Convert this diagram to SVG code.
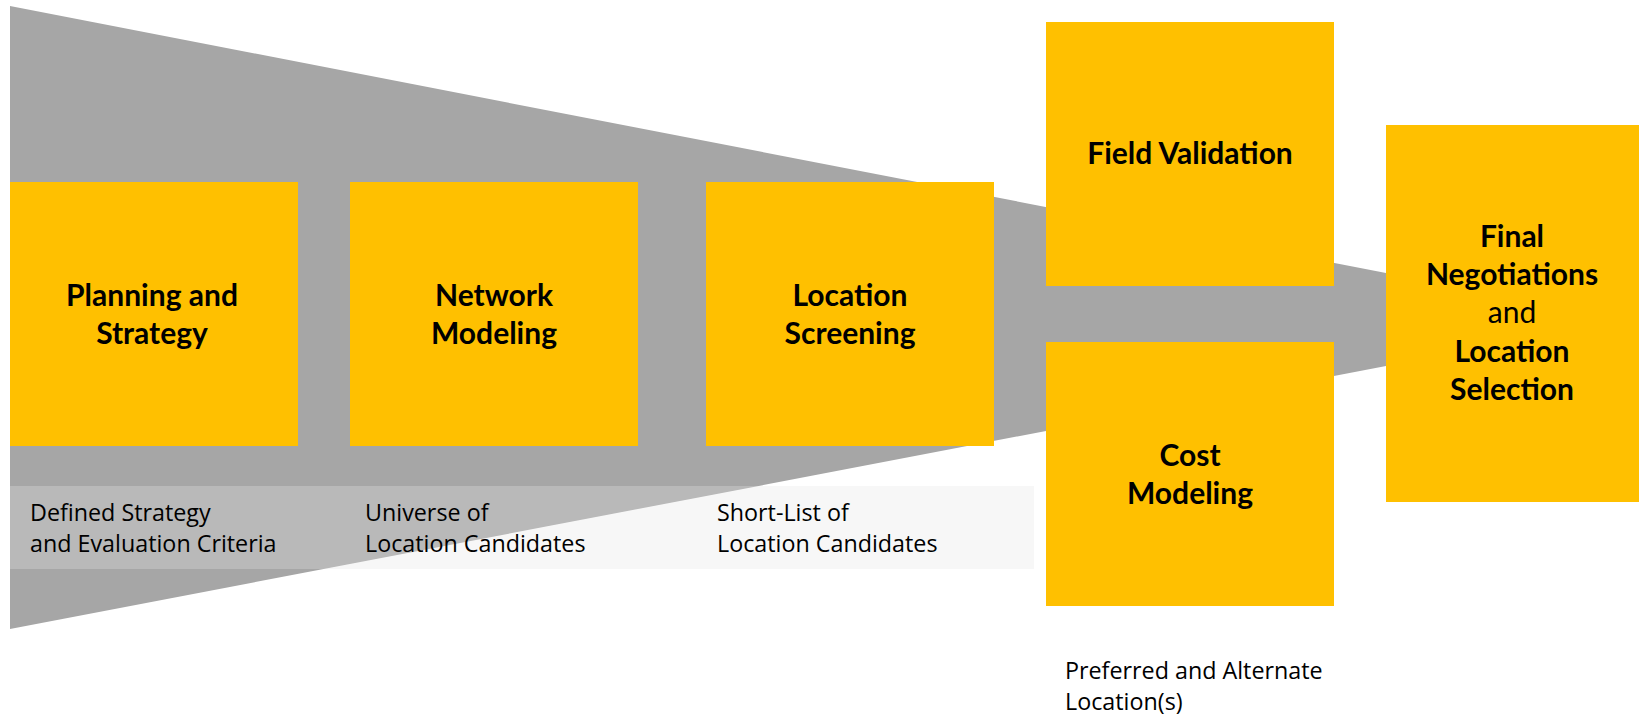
<svg xmlns="http://www.w3.org/2000/svg" width="1639" height="716" viewBox="0 0 1639 716">
<style>
.box{fill:#FFC000}
.b{font-family:Lato,"Open Sans",sans-serif;font-weight:bold;font-size:30px;fill:#000;text-anchor:middle}
.r{font-family:Lato,"Open Sans",sans-serif;font-size:30px;fill:#000;text-anchor:middle}
.s{font-family:"Open Sans","Liberation Sans",sans-serif;font-size:23.3px;fill:#000}
</style>
<g id="funnel">
<polygon points="10,6 1386,273 1386,366 10,629" fill="#A6A6A6"/>
<rect x="10" y="486" width="1024" height="83" fill="#e4e4e4" opacity="0.3"/>
</g>
<g id="planning">
<rect class="box" x="10" y="182" width="288" height="264"/>
<text class="b" x="152" y="306">Planning and</text>
<text class="b" x="152" y="344">Strategy</text>
</g>
<g id="network">
<rect class="box" x="350" y="182" width="288" height="264"/>
<text class="b" x="494" y="306">Network</text>
<text class="b" x="494" y="344">Modeling</text>
</g>
<g id="screening">
<rect class="box" x="706" y="182" width="288" height="264"/>
<text class="b" x="850" y="306">Location</text>
<text class="b" x="850" y="344">Screening</text>
</g>
<g id="field">
<rect class="box" x="1046" y="22" width="288" height="264"/>
<text class="b" x="1190" y="164">Field Validation</text>
</g>
<g id="cost">
<rect class="box" x="1046" y="342" width="288" height="264"/>
<text class="b" x="1190" y="466">Cost</text>
<text class="b" x="1190" y="504">Modeling</text>
</g>
<g id="final">
<rect class="box" x="1386" y="125" width="253" height="377"/>
<text class="b" x="1512" y="247">Final</text>
<text class="b" x="1512" y="285">Negotiations</text>
<text class="r" x="1512" y="323">and</text>
<text class="b" x="1512" y="362">Location</text>
<text class="b" x="1512" y="400">Selection</text>
</g>
<g id="labels">
<text class="s" x="30" y="521">Defined Strategy</text>
<text class="s" x="30" y="552">and Evaluation Criteria</text>
<text class="s" x="365" y="521">Universe of</text>
<text class="s" x="365" y="552">Location Candidates</text>
<text class="s" x="717" y="521">Short-List of</text>
<text class="s" x="717" y="552">Location Candidates</text>
<text class="s" x="1065" y="679">Preferred and Alternate</text>
<text class="s" x="1065" y="710">Location(s)</text>
</g>
<g id="connectors"/>
</svg>
